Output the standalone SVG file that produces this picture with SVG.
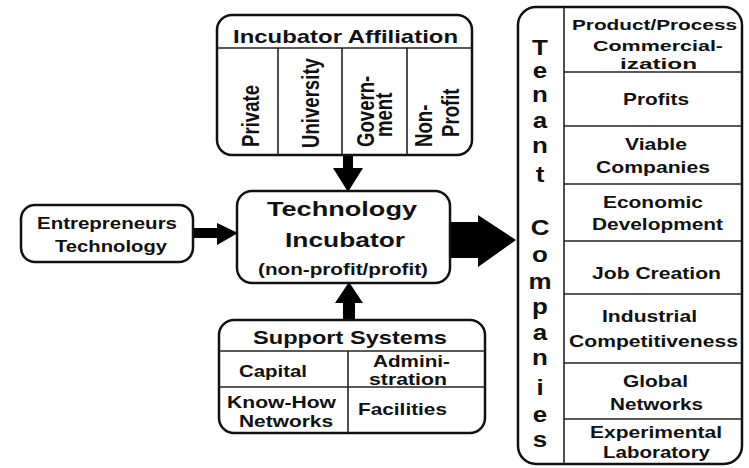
<svg xmlns="http://www.w3.org/2000/svg" width="749" height="468" viewBox="0 0 749 468">
  <style>
    .box { fill: #fff; stroke: #111; stroke-width: 2.5; }
    .div { stroke: #222; stroke-width: 1.6; fill: none; }
    .arrow { fill: #000; }
    text { font-family: "Liberation Sans", Arial, sans-serif; font-weight: bold; fill: #111; text-anchor: middle; }
    .t18 { font-size: 19px; }
    .t20 { font-size: 21px; }
    .t15 { font-size: 16.5px; }
    .t14 { font-size: 15px; }
    .vt { font-size: 18.6px; text-anchor: start; }
    .letter { font-size: 22px; }
  </style>
  <rect width="749" height="468" fill="#fff"/>

  <!-- connectors -->
  <g id="connectors">
    <polygon class="arrow" points="343,155 353,155 353,168 363,168 348,192 333,168 343,168"/>
    <polygon class="arrow" points="343,320 355,320 355,303 363,303 349,282 335,303 343,303"/>
    <polygon class="arrow" points="193,228 217,228 217,223 238,233 217,245 217,238 193,238"/>
    <polygon class="arrow" points="450,222 478,222 478,215 516,240 478,267 478,258 450,258"/>
  </g>

  <!-- incubator affiliation -->
  <g id="affiliation">
    <rect class="box" x="217" y="15" width="255" height="140" rx="15"/>
    <line class="div" x1="217" y1="48" x2="472" y2="48"/>
    <line class="div" x1="278" y1="48" x2="278" y2="155"/>
    <line class="div" x1="342" y1="48" x2="342" y2="155"/>
    <line class="div" x1="407" y1="48" x2="407" y2="155"/>
    <text class="t18" x="345.5" y="43" textLength="225" lengthAdjust="spacingAndGlyphs">Incubator Affiliation</text>
    <text class="vt" transform="translate(259,147) scale(1.25,1) rotate(-90)">Private</text>
    <text class="vt" transform="translate(319,148) scale(1.25,1) rotate(-90)">University</text>
    <text class="vt" transform="translate(374,147) scale(1.25,1) rotate(-90)">Govern-</text>
    <text class="vt" transform="translate(392,137) scale(1.25,1) rotate(-90)">ment</text>
    <text class="vt" transform="translate(432,147) scale(1.25,1) rotate(-90)">Non-</text>
    <text class="vt" transform="translate(459,137) scale(1.25,1) rotate(-90)">Profit</text>
  </g>

  <!-- technology incubator -->
  <g id="incubator">
    <rect class="box" x="237" y="191" width="213" height="92" rx="15"/>
    <text class="t20" x="342" y="216" textLength="150" lengthAdjust="spacingAndGlyphs">Technology</text>
    <text class="t20" x="345" y="247" textLength="120" lengthAdjust="spacingAndGlyphs">Incubator</text>
    <text class="t15" x="343" y="275" textLength="170" lengthAdjust="spacingAndGlyphs">(non-profit/profit)</text>
  </g>

  <!-- entrepreneurs -->
  <g id="entrepreneurs">
    <rect class="box" x="21" y="205" width="172" height="57" rx="14"/>
    <text class="t15" x="107" y="229" textLength="140" lengthAdjust="spacingAndGlyphs">Entrepreneurs</text>
    <text class="t15" x="111" y="252" textLength="112" lengthAdjust="spacingAndGlyphs">Technology</text>
  </g>

  <!-- support systems -->
  <g id="support">
    <rect class="box" x="219" y="320" width="266" height="113" rx="15"/>
    <line class="div" x1="219" y1="351" x2="485" y2="351"/>
    <line class="div" x1="219" y1="387" x2="485" y2="387"/>
    <line class="div" x1="348" y1="351" x2="348" y2="433"/>
    <text class="t18" x="350" y="344" textLength="194" lengthAdjust="spacingAndGlyphs">Support Systems</text>
    <text class="t15" x="273" y="377" textLength="68" lengthAdjust="spacingAndGlyphs">Capital</text>
    <text class="t15" x="411.5" y="367" textLength="77" lengthAdjust="spacingAndGlyphs">Admini-</text>
    <text class="t15" x="408" y="385" textLength="78" lengthAdjust="spacingAndGlyphs">stration</text>
    <text class="t15" x="281.5" y="408" textLength="109" lengthAdjust="spacingAndGlyphs">Know-How</text>
    <text class="t15" x="286" y="427" textLength="94" lengthAdjust="spacingAndGlyphs">Networks</text>
    <text class="t15" x="402.5" y="415" textLength="89" lengthAdjust="spacingAndGlyphs">Facilities</text>
  </g>

  <!-- tenant companies -->
  <g id="tenant-companies">
    <rect class="box" x="518" y="7" width="224" height="457" rx="18"/>
    <line class="div" x1="564" y1="7" x2="564" y2="464"/>
    <line class="div" x1="564" y1="72" x2="742" y2="72"/>
    <line class="div" x1="564" y1="126" x2="742" y2="126"/>
    <line class="div" x1="564" y1="184" x2="742" y2="184"/>
    <line class="div" x1="564" y1="241" x2="742" y2="241"/>
    <line class="div" x1="564" y1="294" x2="742" y2="294"/>
    <line class="div" x1="564" y1="363" x2="742" y2="363"/>
    <line class="div" x1="564" y1="419" x2="742" y2="419"/>
    <g transform="translate(540,0) scale(1.18,1)">
      <text class="letter" x="0" y="55">T</text>
      <text class="letter" x="0" y="78">e</text>
      <text class="letter" x="0" y="102">n</text>
      <text class="letter" x="0" y="128">a</text>
      <text class="letter" x="0" y="153">n</text>
      <text class="letter" x="0" y="182">t</text>
      <text class="letter" x="0" y="235">C</text>
      <text class="letter" x="0" y="262">o</text>
      <text class="letter" x="0" y="289">m</text>
      <text class="letter" x="0" y="314">p</text>
      <text class="letter" x="0" y="340">a</text>
      <text class="letter" x="0" y="365">n</text>
      <text class="letter" x="0" y="395">i</text>
      <text class="letter" x="0" y="422">e</text>
      <text class="letter" x="0" y="447">s</text>
    </g>
    <text class="t14" x="654.5" y="30" textLength="165" lengthAdjust="spacingAndGlyphs">Product/Process</text>
    <text class="t14" x="658" y="51" textLength="130" lengthAdjust="spacingAndGlyphs">Commercial-</text>
    <text class="t14" x="658.5" y="69" textLength="77" lengthAdjust="spacingAndGlyphs">ization</text>
    <text class="t15" x="656" y="105" textLength="66" lengthAdjust="spacingAndGlyphs">Profits</text>
    <text class="t15" x="656" y="150" textLength="62" lengthAdjust="spacingAndGlyphs">Viable</text>
    <text class="t15" x="653" y="173" textLength="114" lengthAdjust="spacingAndGlyphs">Companies</text>
    <text class="t15" x="653" y="208" textLength="100" lengthAdjust="spacingAndGlyphs">Economic</text>
    <text class="t15" x="657.5" y="230" textLength="131" lengthAdjust="spacingAndGlyphs">Development</text>
    <text class="t15" x="656.5" y="279" textLength="129" lengthAdjust="spacingAndGlyphs">Job Creation</text>
    <text class="t15" x="649.5" y="322" textLength="95" lengthAdjust="spacingAndGlyphs">Industrial</text>
    <text class="t15" x="653.5" y="347" textLength="169" lengthAdjust="spacingAndGlyphs">Competitiveness</text>
    <text class="t15" x="655.5" y="387" textLength="65" lengthAdjust="spacingAndGlyphs">Global</text>
    <text class="t15" x="656.5" y="410" textLength="93" lengthAdjust="spacingAndGlyphs">Networks</text>
    <text class="t15" x="656" y="438" textLength="132" lengthAdjust="spacingAndGlyphs">Experimental</text>
    <text class="t15" x="656.5" y="458" textLength="107" lengthAdjust="spacingAndGlyphs">Laboratory</text>
  </g>
</svg>
